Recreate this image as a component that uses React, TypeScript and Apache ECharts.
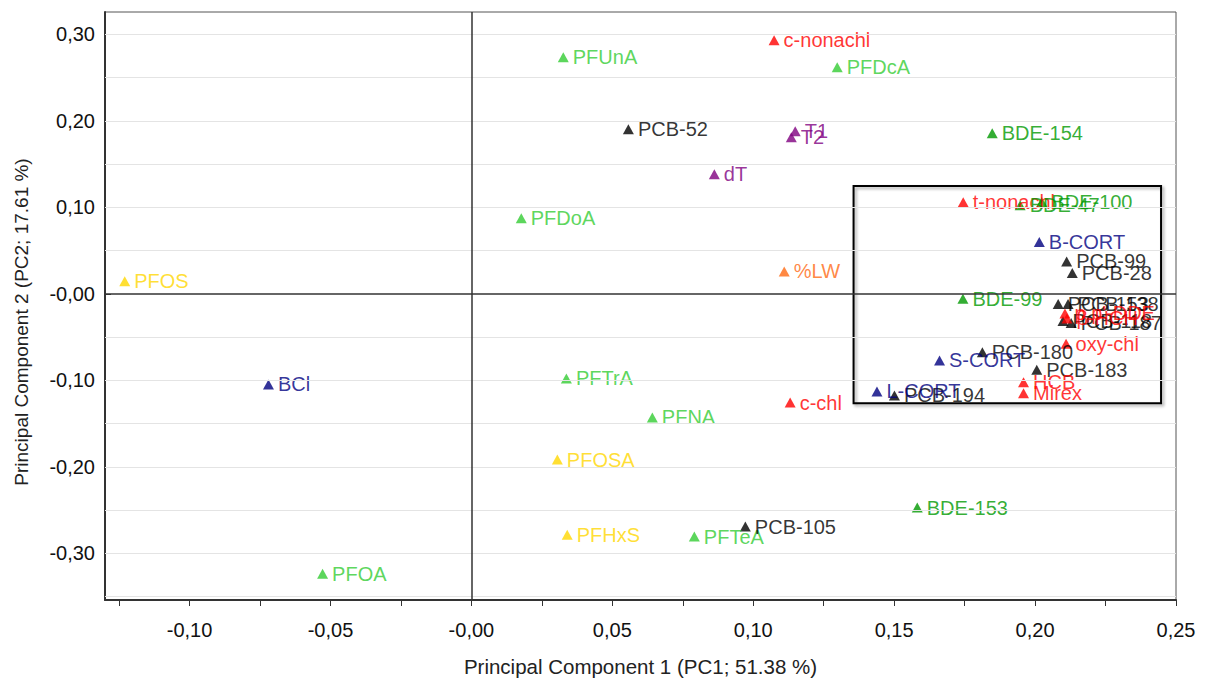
import React, { useEffect, useRef } from "react";
import * as echarts from "echarts";

const FONT = '"Liberation Sans", Arial, Helvetica, sans-serif';

// ---- data (PC1, PC2 loadings) ----
const pfcaNames = ["PFOA", "PFDoA", "PFUnA", "PFDcA", "PFTrA", "PFNA", "PFTeA"];
const pfcaX = [-0.0528, 0.0177, 0.0326, 0.1298, 0.0337, 0.0642, 0.0791];
const pfcaY = [-0.3235, 0.0874, 0.2737, 0.2622, -0.0978, -0.1429, -0.2807];

const pfsaNames = ["PFOS", "PFOSA", "PFHxS"];
const pfsaX = [-0.123, 0.0305, 0.034];
const pfsaY = [0.0145, -0.1916, -0.2784];

const pcbNames = ["PCB-52", "PCB-105", "PCB-99", "PCB-28", "PCB-153", "PCB-138", "PCB-118", "PCB-187", "PCB-180", "PCB-183", "PCB-194"];
const pcbX = [0.0557, 0.0972, 0.2112, 0.2132, 0.2082, 0.2117, 0.2099, 0.2128, 0.1813, 0.2006, 0.1501];
const pcbY = [0.1904, -0.2691, 0.0376, 0.0241, -0.0116, -0.0116, -0.0313, -0.0336, -0.0674, -0.0877, -0.1175];

const ocNames = ["c-nonachl", "t-nonachl", "c-chl", "oxy-chl", "HCB", "Mirex", "p,p'-DDE", "β-HCH"];
const ocX = [0.1074, 0.1745, 0.1131, 0.211, 0.1959, 0.1959, 0.2106, 0.2113];
const ocY = [0.2934, 0.1059, -0.1256, -0.0576, -0.1021, -0.1148, -0.0226, -0.0284];

const bdeNames = ["BDE-154", "BDE-47", "BDE-100", "BDE-99", "BDE-153"];
const bdeX = [0.1848, 0.1947, 0.2024, 0.1744, 0.1582];
const bdeY = [0.1858, 0.1024, 0.1062, -0.0056, -0.2471];

const cortNames = ["BCl", "B-CORT", "S-CORT", "L-CORT"];
const cortX = [-0.072, 0.2015, 0.1661, 0.1439];
const cortY = [-0.1047, 0.06, -0.077, -0.1128];

const thyNames = ["T1", "T2", "dT"];
const thyX = [0.1149, 0.1135, 0.0862];
const thyY = [0.1881, 0.1811, 0.1383];

const lwNames = ["%LW"];
const lwX = [0.111];
const lwY = [0.026];

// highlighted region
const boxX = [0.1356, 0.2447];
const boxY = [0.1248, -0.1264];

// axes
const xRange = [-0.13, 0.25];
const yRange = [-0.354, 0.326];
const xTickValues = [-0.125, -0.1, -0.075, -0.05, -0.025, 0, 0.025, 0.05, 0.075, 0.1, 0.125, 0.15, 0.175, 0.2, 0.225, 0.25];
const xLabelValues = [-0.1, -0.05, 0, 0.05, 0.1, 0.15, 0.2, 0.25];
const yTickValues = [-0.35, -0.3, -0.25, -0.2, -0.15, -0.1, -0.05, 0, 0.05, 0.1, 0.15, 0.2, 0.25, 0.3];
const yLabelValues = [-0.3, -0.2, -0.1, 0, 0.1, 0.2, 0.3];
const yGridValues = [-0.35, -0.3, -0.25, -0.2, -0.15, -0.1, -0.05, 0.05, 0.1, 0.15, 0.2, 0.25, 0.3];

const fmt = (v: number) => (Math.abs(v) < 1e-9 ? "-0,00" : v.toFixed(2).replace(".", ","));

function mk(names: string[], xs: number[], ys: number[], color: string) {
  return {
    type: "scatter",
    symbol: "triangle",
    symbolSize: [11, 10],
    itemStyle: { color },
    label: {
      show: true,
      position: "right",
      distance: 4,
      formatter: "{b}",
      color,
      fontSize: 20,
      fontFamily: FONT,
    },
    data: names.map((n, i) => ({ name: n, value: [xs[i], ys[i]] })),
    z: 3,
  };
}

export default function App() {
  const ref = useRef<HTMLDivElement>(null);
  useEffect(() => {
    if (!ref.current) return;
    const chart = echarts.init(ref.current, null, { renderer: "svg" });
    chart.setOption({
      animation: false,
      backgroundColor: "#fff",
      grid: {
        left: 105,
        top: 12,
        right: 32,
        bottom: 82,
        show: true,
        borderColor: "#555",
        borderWidth: 1,
        backgroundColor: "transparent",
      },
      xAxis: {
        type: "value",
        min: xRange[0],
        max: xRange[1],
        axisLine: { show: true, onZero: false, lineStyle: { color: "#333", width: 2 } },
        axisTick: { show: true, length: 6, customValues: xTickValues, lineStyle: { color: "#333" } },
        axisLabel: { customValues: xLabelValues, formatter: fmt, fontSize: 20, color: "#111", margin: 20, fontFamily: FONT },
        splitLine: { show: false },
        name: "Principal Component 1 (PC1; 51.38 %)",
        nameLocation: "middle",
        nameGap: 56,
        nameTextStyle: { fontSize: 20.5, color: "#222", fontFamily: FONT },
      },
      yAxis: {
        type: "value",
        min: yRange[0],
        max: yRange[1],
        axisLine: { show: true, onZero: false, lineStyle: { color: "#333", width: 2 } },
        axisTick: { show: true, inside: true, length: 6, customValues: yTickValues, lineStyle: { color: "#333" } },
        axisLabel: { customValues: yLabelValues, formatter: fmt, fontSize: 20, color: "#111", margin: 10, fontFamily: FONT },
        splitLine: { show: false },
        name: "Principal Component 2 (PC2; 17.61 %)",
        nameLocation: "middle",
        nameGap: 74,
        nameTextStyle: { fontSize: 19, color: "#222", fontFamily: FONT, padding: [0, 32, 0, 0] },
      },
      series: [
        {
          type: "scatter",
          data: [],
          silent: true,
          z: 1,
          markLine: {
            silent: true,
            symbol: ["none", "none"],
            label: { show: false },
            lineStyle: { color: "#e4e4e4", width: 1, type: "solid" },
            data: yGridValues.map((v) => ({ yAxis: v })),
          },
        },
        {
          type: "scatter",
          data: [],
          silent: true,
          z: 2,
          markLine: {
            silent: true,
            symbol: ["none", "none"],
            label: { show: false },
            lineStyle: { color: "#333", width: 1.5, type: "solid" },
            data: [{ xAxis: 0 }, { yAxis: 0 }],
          },
          markArea: {
            silent: true,
            itemStyle: {
              color: "rgba(0,0,0,0)",
              borderColor: "#000",
              borderWidth: 2,
              shadowColor: "rgba(0,0,0,0.35)",
              shadowBlur: 3,
              shadowOffsetX: 2,
              shadowOffsetY: 2,
            },
            data: [[{ coord: [boxX[0], boxY[0]] }, { coord: [boxX[1], boxY[1]] }]],
          },
        },
        mk(pfcaNames, pfcaX, pfcaY, "#33CC33"),
        mk(pfsaNames, pfsaX, pfsaY, "#FFD700"),
        mk(lwNames, lwX, lwY, "#FF6A13"),
        mk(thyNames, thyX, thyY, "#800080"),
        mk(pcbNames, pcbX, pcbY, "#000000"),
        mk(cortNames, cortX, cortY, "#000080"),
        mk(ocNames, ocX, ocY, "#FF0000"),
        mk(bdeNames, bdeX, bdeY, "#009900"),
      ],
    });
    return () => chart.dispose();
  }, []);
  return (
    <div
      ref={ref}
      style={{ position: "absolute", left: 0, top: 0, width: 1208, height: 682, background: "#fff" }}
    />
  );
}
